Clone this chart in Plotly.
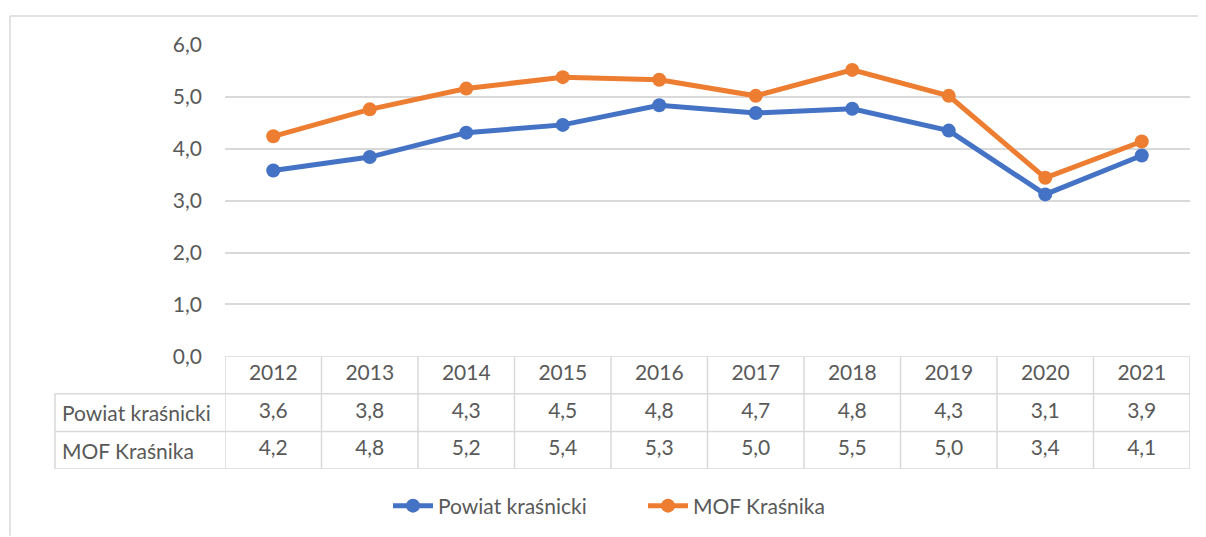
import plotly.graph_objects as go

years = ["2012", "2013", "2014", "2015", "2016", "2017", "2018", "2019", "2020", "2021"]
series_names = ["Powiat kraśnicki", "MOF Kraśnika"]
powiat = [3.58, 3.84, 4.31, 4.46, 4.84, 4.69, 4.77, 4.35, 3.12, 3.87]
mof = [4.24, 4.76, 5.16, 5.38, 5.33, 5.02, 5.52, 5.02, 3.44, 4.14]
y_ticks = [0, 1, 2, 3, 4, 5, 6]
y_tick_labels = ["0,0", "1,0", "2,0", "3,0", "4,0", "5,0", "6,0"]

colors = ["#4472C4", "#ED7D31"]
FONT = "Lato, 'Open Sans', sans-serif"
TXT = "#595959"
GRID = "#D9D9D9"
FS = 21

O = 8  # page body offset
W, H = 1206 - O, 537 - O
ML, MR, MT = 225 - O, W - (1190 - O), 45 - O
BOTTOM = 470 - O
MB = H - BOTTOM
plot_w = W - ML - MR
plot_h = H - MT - MB
main_bottom = (470 - 357) / plot_h


def px(xs):
    return (xs - O - ML) / plot_w


def py(ys):
    return (H - MB - (ys - O)) / plot_h


xs = list(range(len(years)))
fig = go.Figure()
for name, vals, c in zip(series_names, [powiat, mof], colors):
    fig.add_trace(go.Scatter(
        x=xs, y=vals, name=name, mode="lines+markers",
        line=dict(color=c, width=5), marker=dict(size=14, color=c),
        cliponaxis=False,
    ))


def fmt(v):
    return f"{v:.1f}".replace(".", ",")


fig.add_trace(go.Scatter(x=xs, y=[0.5] * len(xs), yaxis="y2", mode="text",
                         text=years, textfont=dict(family=FONT, size=FS, color=TXT),
                         showlegend=False, hoverinfo="skip"))
for i, vals in enumerate([powiat, mof]):
    fig.add_trace(go.Scatter(x=xs, y=[1.5 + i] * len(xs), yaxis="y2", mode="text",
                             text=[fmt(v) for v in vals],
                             textfont=dict(family=FONT, size=FS, color=TXT),
                             showlegend=False, hoverinfo="skip"))

shapes = []
line = dict(color=GRID, width=1.5)
for r in [0, 1, 2, 3]:
    shapes.append(dict(type="line", xref="x", yref="y2", x0=-0.5, x1=len(xs) - 0.5,
                       y0=r, y1=r, line=line))
for r in [1, 2, 3]:
    shapes.append(dict(type="line", xref="paper", yref="y2", x0=px(55), x1=0,
                       y0=r, y1=r, line=line))
for k in range(len(xs) + 1):
    shapes.append(dict(type="line", xref="x", yref="y2", x0=k - 0.5, x1=k - 0.5,
                       y0=0, y1=3, line=line))
shapes.append(dict(type="line", xref="paper", yref="y2", x0=px(55), x1=px(55),
                   y0=1, y1=3, line=line))
# chart border
shapes.append(dict(type="line", xref="paper", yref="paper",
                   x0=px(10), x1=px(1206), y0=py(16), y1=py(16),
                   line=dict(color=GRID, width=1.5)))
shapes.append(dict(type="line", xref="paper", yref="paper",
                   x0=px(10), x1=px(10), y0=py(16), y1=py(537),
                   line=dict(color=GRID, width=1.5)))

annotations = []
for i, name in enumerate(series_names):
    annotations.append(dict(xref="paper", yref="y2", x=px(60), y=1.5 + i,
                            text=name, showarrow=False, xanchor="left",
                            font=dict(family=FONT, size=FS, color=TXT)))

fig.update_layout(
    width=W, height=H,
    margin=dict(l=ML, r=MR, t=MT, b=MB),
    paper_bgcolor="white", plot_bgcolor="white",
    font=dict(family=FONT, color=TXT, size=FS),
    xaxis=dict(range=[-0.5, len(xs) - 0.5], showticklabels=False, showgrid=False,
               zeroline=False, fixedrange=True),
    yaxis=dict(domain=[main_bottom, 1], range=[0, 6], tickvals=y_ticks, ticktext=y_tick_labels,
               showgrid=True, gridcolor=GRID, gridwidth=1.5, zeroline=False,
               ticks="", ticklabelstandoff=22, tickfont=dict(family=FONT, size=FS, color=TXT)),
    yaxis2=dict(domain=[0, main_bottom], range=[3, 0], showticklabels=False, showgrid=False,
                zeroline=False, anchor="x"),
    shapes=shapes,
    annotations=annotations,
    legend=dict(orientation="h", x=px(388), xanchor="left",
                y=py(506), yanchor="middle", entrywidth=200,
                font=dict(family=FONT, size=FS, color=TXT), itemwidth=40),
    showlegend=True,
)

fig.write_html("out.html")
